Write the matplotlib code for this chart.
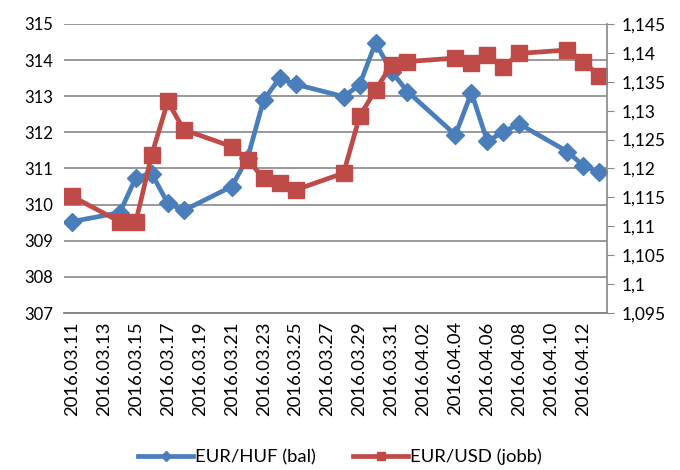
import matplotlib
matplotlib.use("Agg")
import matplotlib.pyplot as plt
import matplotlib.dates as mdates
from matplotlib.ticker import FuncFormatter, MultipleLocator
import pandas as pd

plt.rcParams['font.family'] = ['Lato', 'DejaVu Sans']

# trading days
dates = ['2016-03-11', '2016-03-14', '2016-03-15', '2016-03-16', '2016-03-17',
         '2016-03-18', '2016-03-21', '2016-03-22', '2016-03-23', '2016-03-24',
         '2016-03-25', '2016-03-28', '2016-03-29', '2016-03-30', '2016-03-31',
         '2016-04-01', '2016-04-04', '2016-04-05', '2016-04-06', '2016-04-07',
         '2016-04-08', '2016-04-11', '2016-04-12', '2016-04-13']
eur_huf = [309.53, 309.78, 310.75, 310.85, 310.04, 309.84, 310.5, 311.3, 312.9, 313.5,
           313.33, 312.99, 313.31, 314.48, 313.68, 313.13, 311.93, 313.1, 311.75, 312.02,
           312.23, 311.47, 311.08, 310.89]
eur_usd = [1.1152, 1.1108, 1.1108, 1.1224, 1.1316, 1.1267, 1.1238, 1.1215, 1.1183, 1.1175,
           1.1163, 1.1192, 1.1290, 1.1336, 1.1379, 1.1385, 1.1391, 1.1382, 1.1396, 1.1376,
           1.1399, 1.1405, 1.1385, 1.1360]
tick_dates = pd.date_range('2016-03-11', '2016-04-12', freq='2D')

x = pd.to_datetime(dates)

blue = '#4A7EBB'
red = '#BE4B48'
grid_c = '#888888'

fig = plt.figure(figsize=(6.8, 4.7), dpi=100)
ax = fig.add_axes([0.094, 0.334, 0.799, 0.615])
ax2 = ax.twinx()

l1, = ax.plot(x, eur_huf, '-D', color=blue, lw=3.4, ms=9.5, label='EUR/HUF (bal)')
l2, = ax2.plot(x, eur_usd, '-s', color=red, lw=3.4, ms=11, label='EUR/USD (jobb)')

ax.set_ylim(307, 315)
ax.yaxis.set_major_locator(MultipleLocator(1))
ax2.set_ylim(1.095, 1.145)
ax2.yaxis.set_major_locator(MultipleLocator(0.005))
ax2.yaxis.set_major_formatter(FuncFormatter(lambda v, p: ('%g' % round(v, 4)).replace('.', ',')))

ax.set_xlim(pd.Timestamp('2016-03-10 12:00'), pd.Timestamp('2016-04-13 12:00'))
ax.set_xticks(tick_dates)
ax.xaxis.set_major_formatter(mdates.DateFormatter('%Y.%m.%d'))
ax.tick_params(axis='x', rotation=90, labelsize=13.3, length=0, pad=6)
ax.tick_params(axis='y', labelsize=12, length=0, pad=8)
ax2.tick_params(axis='y', labelsize=12.5, length=5, color=grid_c, pad=5, direction='out')

ax.grid(axis='y', color=grid_c, lw=1.2)
ax.set_axisbelow(True)
for a in (ax, ax2):
    a.spines['top'].set_visible(False)
    a.spines['left'].set_visible(False)
    a.spines['right'].set_visible(False)
    a.spines['bottom'].set_color(grid_c)
    a.spines['bottom'].set_linewidth(1.2)
ax2.spines['right'].set_visible(True)
ax2.spines['right'].set_color(grid_c)
ax2.spines['right'].set_linewidth(1.2)

leg = fig.legend(handles=[l1, l2], loc='lower center', bbox_to_anchor=(0.5, -0.025),
                 ncol=2, frameon=False, fontsize=13.3, handlelength=3.0,
                 columnspacing=2.0, handletextpad=0.1, markerscale=0.55)

fig.savefig('out.png', dpi=100)
